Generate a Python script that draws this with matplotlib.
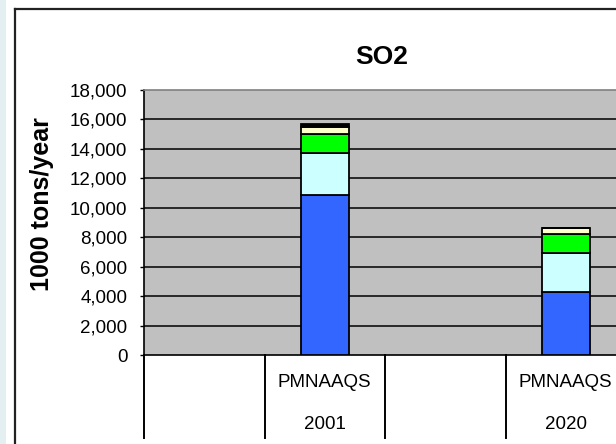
import matplotlib
matplotlib.use("Agg")
import matplotlib.pyplot as plt
from matplotlib.transforms import blended_transform_factory
from matplotlib.patches import Rectangle
from matplotlib.lines import Line2D
from matplotlib.ticker import FuncFormatter

plt.rcParams['font.family'] = ['Liberation Sans', 'DejaVu Sans']

# Data
title = "SO2"
ylabel = "1000 tons/year"
cat_top = ["", "PMNAAQS", "", "PMNAAQS"]
cat_bottom = ["", "2001", "", "2020"]
series_colors = ["#3366ff", "#ccffff", "#00ff00", "#ffffcc", "#000000"]
# stacked segments for the non-empty categories (2001, 2020)
seg_blue = [10900, 4300]
seg_cyan = [2800, 2600]
seg_green = [1300, 1350]
seg_cream = [500, 400]
seg_dark = [200, 0]
yticks = list(range(0, 18001, 2000))

W, H = 616, 444
fig = plt.figure(figsize=(W / 100, H / 100), dpi=100)
fig.patch.set_facecolor("white")

# left light strip and chart frame
fig.add_artist(Rectangle((0, 0), 6 / W, 1, transform=fig.transFigure,
                         facecolor="#e3eff1", edgecolor="none"))
fig.add_artist(Line2D([15 / W, 15 / W], [0, 1 - 9.5 / H], transform=fig.transFigure,
                      color="#222222", lw=1.6))
fig.add_artist(Line2D([15 / W, 1], [1 - 9.5 / H, 1 - 9.5 / H], transform=fig.transFigure,
                      color="#222222", lw=1.6))

catw = 120.5
ncat_visible = 4.5
ax = fig.add_axes([144 / W, (H - 355) / H, ncat_visible * catw / W, 265 / H])
ax.set_facecolor("#c0c0c0")
ax.set_xlim(0, ncat_visible)
ax.set_ylim(0, 18000)

idx = [i for i, c in enumerate(cat_bottom) if c]
xs = [i + 0.5 for i in idx]
segs = [seg_blue, seg_cyan, seg_green, seg_cream, seg_dark]
bottoms = [0] * len(xs)
for vals, col in zip(segs, series_colors):
    hs = [v for v in vals]
    ax.bar(xs, hs, width=0.4, bottom=bottoms, color=col, edgecolor="black",
           linewidth=1.3, zorder=3)
    bottoms = [b + v for b, v in zip(bottoms, vals)]

# grid lines
for t in yticks[1:-1]:
    ax.axhline(t, color="black", lw=1.1, zorder=1)

ax.set_yticks(yticks)
ax.yaxis.set_major_formatter(FuncFormatter(lambda v, p: f"{int(v):,}"))
ax.tick_params(axis="y", length=3, width=1, pad=9, labelsize=13.5, colors="black")
ax.set_xticks([])

for s in ["left", "bottom"]:
    ax.spines[s].set_color("black")
    ax.spines[s].set_linewidth(1.2)
ax.spines["top"].set_color("#808080")
ax.spines["top"].set_linewidth(1.2)
ax.spines["right"].set_visible(False)

# category table
tr = blended_transform_factory(ax.transData, ax.transAxes)
ylow = -(438 - 355) / 265
for i in range(len(cat_top) + 1):
    ax.add_line(Line2D([i, i], [0, ylow], transform=tr, color="black", lw=1.4,
                       clip_on=False))
for i, (a, b) in enumerate(zip(cat_top, cat_bottom)):
    if a:
        ax.text(i + 0.5, -(382 - 355) / 265, a, transform=tr, ha="center",
                va="center", fontsize=13.5)
    if b:
        ax.text(i + 0.5, -(424 - 355) / 265, b, transform=tr, ha="center",
                va="center", fontsize=13.5)

fig.text(382 / W, 1 - 57.5 / H, title, ha="center", va="center",
         fontsize=19, fontweight="bold")
fig.text(42 / W, 1 - 204 / H, ylabel, ha="center", va="center", rotation=90,
         fontsize=18, fontweight="bold")

fig.savefig("out.png", dpi=100)
